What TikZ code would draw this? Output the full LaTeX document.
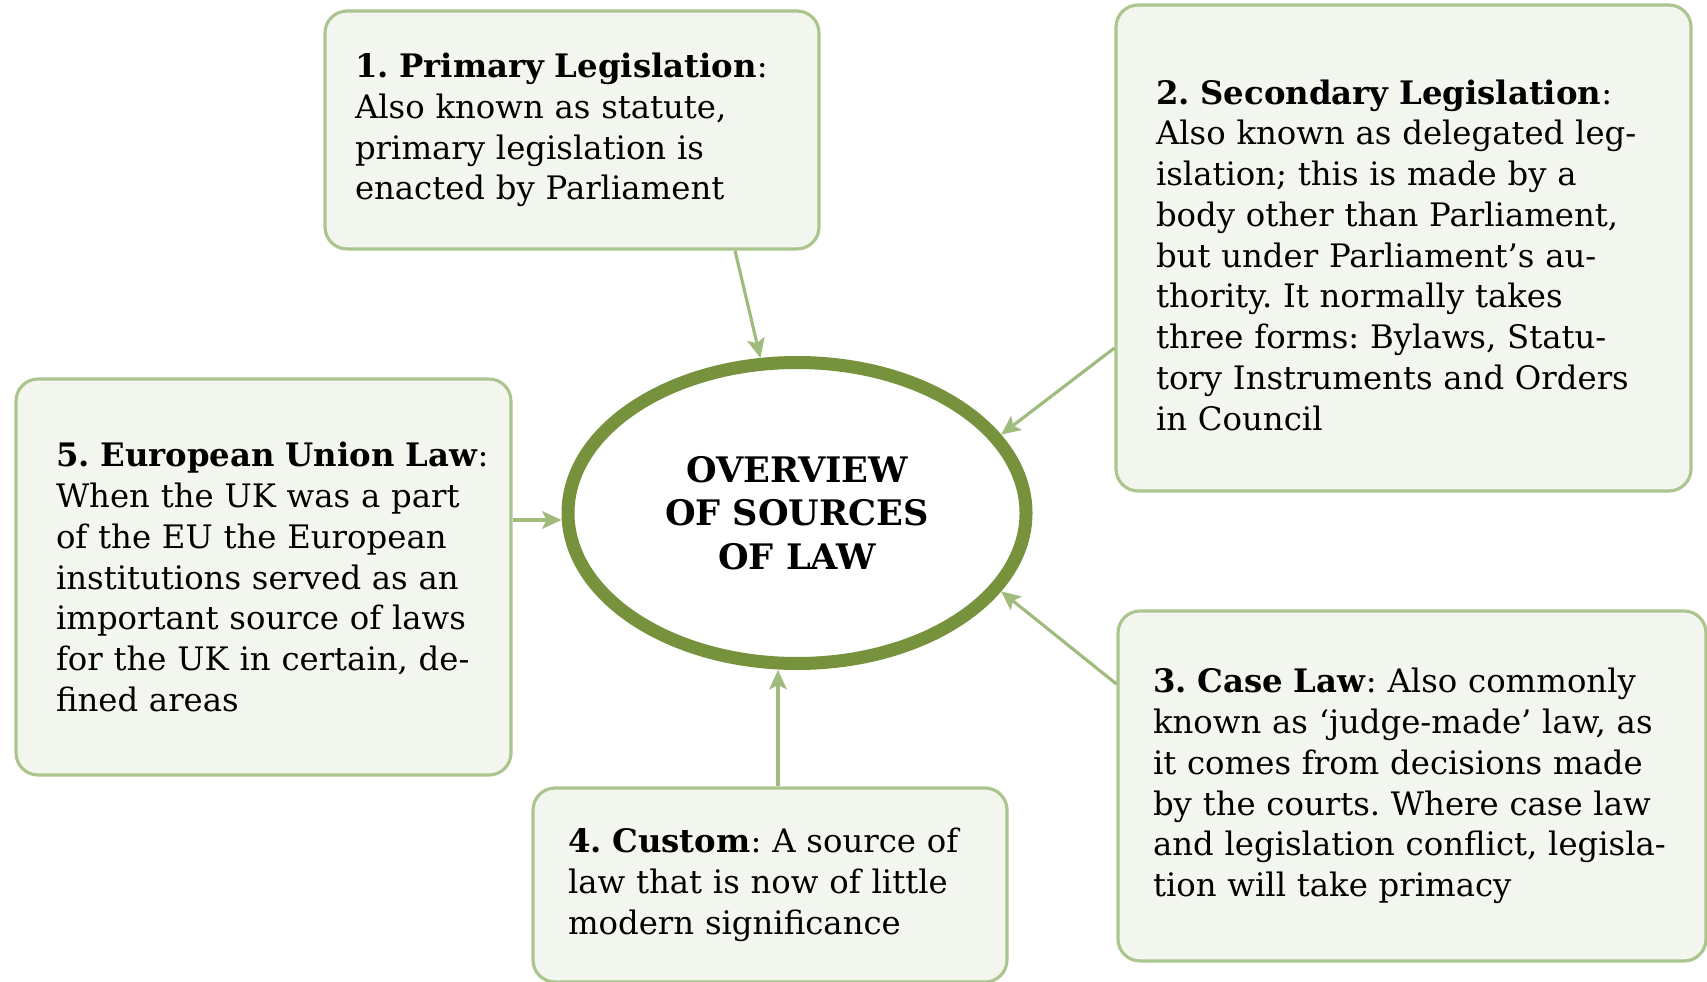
\documentclass[tikz,border=0pt]{standalone}
\usepackage{fontspec}
\setmainfont{DejaVu Serif}
\usepackage{tikz}
\usetikzlibrary{arrows.meta}
\usetikzlibrary{shapes.geometric}
\definecolor{verdeOscuro}{HTML}{76923C}
\definecolor{verdeBorde}{HTML}{ABC58E}
\definecolor{verdeFlecha}{HTML}{9FBB7D}
\definecolor{verdeFondo}{HTML}{F3F6EE}
\frenchspacing

\begin{document}
\begin{tikzpicture}[
    font=\fontsize{9.2pt}{11.6pt}\selectfont, % Fuente del texto de las cajas
    sourcebox/.style={draw=verdeBorde, fill=verdeFondo, line width=0.9pt,
      rounded corners=0.22cm, align=left, inner xsep=0.38cm, inner ysep=0pt}, % Cajas de cada fuente
    link/.style={-{Stealth[length=5.5pt, width=5pt, inset=1.2pt]},
      verdeFlecha, line width=0.9pt}, % Flechas hacia el centro
    hub/.style={ellipse, draw=verdeOscuro, fill=white, line width=0.13cm,
      minimum width=4.58cm, minimum height=3.01cm, inner sep=0pt, align=center,
      font=\fontsize{10pt}{12.4pt}\selectfont\bfseries} % Elipse central
]
    \useasboundingbox (0,0) rectangle (17.07,9.81); % Margenes de la figura

    % --- Elipse central ---
    \node[hub] (law) at (7.97,4.68) {OVERVIEW\\OF SOURCES\\OF LAW};

    % --- Cajas de las fuentes ---
    \node[sourcebox, inner xsep=0.30cm, text width=4.34cm, minimum height=2.38cm] (primary) at (5.72,8.51)
      {\textbf{1. Primary Legislation}:\\ Also known as statute,\\ primary legislation is\\ enacted by Parliament};
    \node[sourcebox, inner xsep=0.40cm, text width=4.95cm, minimum height=4.86cm] (secondary) at (14.035,7.33)
      {\rule{0pt}{11pt}\textbf{2. Secondary Legislation}:\\ Also known as delegated leg-\\ islation; this is made by a\\
       body other than Parliament,\\ but under Parliament’s au-\\ thority. It normally takes\\
       three forms: Bylaws, Statu-\\ tory Instruments and Orders\\ in Council};
    \node[sourcebox, inner xsep=0.35cm, text width=5.18cm, minimum height=3.50cm] (caselaw) at (14.12,1.95)
      {\textbf{3. Case Law}: Also commonly\\ known as ‘judge-made’ law, as\\ it comes from decisions made\\
       by the courts. Where case law\\ \mbox{and legislation conflict, legisla-}\\ tion will take primacy};
    \node[sourcebox, inner xsep=0.35cm, text width=4.04cm, minimum height=1.94cm] (custom) at (7.70,0.96)
      {\textbf{4. Custom}: A source of\\ law that is now of little\\ modern significance};
    \node[sourcebox, inner xsep=0.40cm, text width=4.15cm, minimum height=3.96cm] (eulaw) at (2.635,4.04)
      {\mbox{\textbf{5. European Union Law}:}\\ When the UK was a part\\ of the EU the European\\
       institutions served as an\\ important source of laws\\ for the UK in certain, de-\\ fined areas};

    % --- Flechas ---
    \coordinate (a1) at ([xshift=1.63cm]primary.south); % Salida de la caja 1
    \draw[link] (a1) -- (law);
    \draw[link] ([yshift=-1cm]secondary.west) -- (law.21);
    \draw[link] ([yshift=1.02cm]caselaw.west) -- (law.-21);
    \draw[link] ([xshift=0.08cm]custom.north) -- ([xshift=0.08cm]custom.north |- law.south);
    \draw[link] ([yshift=0.57cm]eulaw.east) -- ([yshift=0.57cm]eulaw.east -| law.west);

\end{tikzpicture}
\end{document}
